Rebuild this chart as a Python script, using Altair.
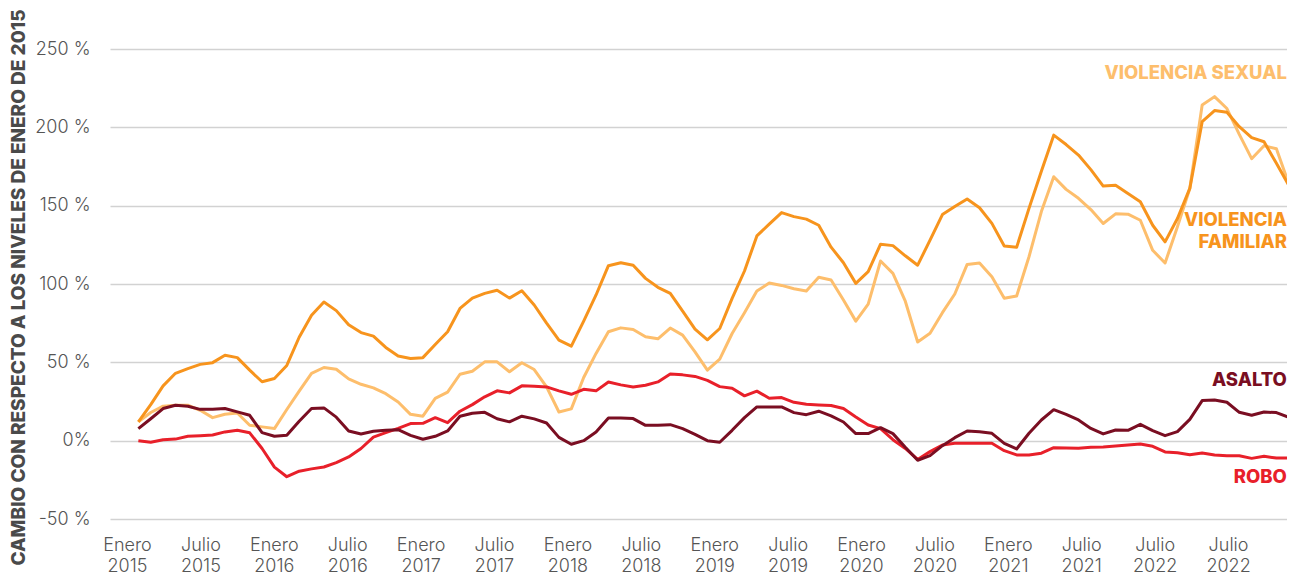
import altair as alt
import pandas as pd

# month index (first observation = 1)
meses = list(range(1, 95))

violencia_familiar = [
    12, 23, 35, 43, 46, 48.7, 49.8, 54.5, 53, 45, 37.6, 39.7, 48, 66, 80, 88.5, 83, 74, 69, 66.7,
    59.5, 54, 52.5, 53, 61.4, 69.5, 84.4, 91, 94, 96, 91, 95.7, 86.6, 75, 64.2, 60.3, 76.3, 93, 111.7, 113.6,
    112, 103.6, 97.9, 94, 82.7, 71.2, 64.4, 71.6, 90.8, 108.3, 130.7, 138.2, 145.6, 143, 141.4, 137.5, 123.5, 113.6, 100.4, 107.9,
    125.4, 124.5, 118, 112, 128, 144.3, 149.4, 154.3, 148.7, 138.7, 124.3, 123.4, 148.3, 172, 195, 189, 182.3, 173, 162.5, 163,
    157.8, 152.5, 137.5, 126.9, 141.8, 161, 203.6, 210.7, 209.6, 200.4, 193.4, 190.8, 177, 163,
]

violencia_sexual = [
    12, 18, 22, 22.6, 22.6, 19.4, 14.7, 16.9, 17.7, 9.8, 8.8, 7.7, 19.9, 31.6, 43, 46.7, 45.6, 39.4, 36, 33.7,
    30, 24.7, 16.8, 15.6, 27, 31, 42.4, 44.3, 50.3, 50.3, 44, 49.7, 45.4, 34.3, 18.3, 20.3, 40.3, 55.7, 69.5, 72,
    71, 66.3, 65, 71.9, 67.4, 56.7, 45, 52, 68.4, 81.7, 95.5, 100.6, 99.1, 97, 95.5, 104.3, 102.6, 89.8, 76.3, 87.2,
    114.7, 106.8, 89, 63, 68.5, 81.7, 93.6, 112.5, 113.4, 104.7, 90.9, 92.3, 117.4, 146.2, 168.5, 160.4, 154.7, 147.5, 138.6, 144.8,
    144.6, 140.7, 121.5, 113.4, 136.5, 161, 214.3, 219.6, 212, 195.5, 180, 188.3, 186.3, 164,
]

asalto = [
    7.7, 14, 20.5, 22.6, 22, 20, 20, 20.5, 18.4, 16.2, 5.1, 2.8, 3.4, 12.4, 20.5, 20.9, 15, 6.2, 4.3, 6,
    6.6, 7, 3.4, 0.9, 2.8, 6.2, 15.6, 17.5, 18.1, 14, 12, 15.6, 13.9, 11.3, 2.1, -2.3, 0, 5.5, 14.5, 14.5,
    14.1, 9.8, 9.8, 10.2, 7.7, 4, 0, -1, 6.6, 14.7, 21.5, 21.5, 21.5, 17.9, 16.6, 18.8, 15.8, 11.9, 4.5, 4.5,
    8.3, 4.5, -4.2, -12.5, -9.6, -3.2, 1.9, 6.2, 5.7, 4.7, -1.7, -5.3, 4.7, 13.2, 19.8, 16.8, 13.2, 7.8, 4.3, 6.8,
    6.6, 10.4, 6.4, 3.2, 5.8, 13.6, 25.6, 26, 24.5, 18.1, 16.2, 18.3, 17.9, 14.9,
]

robo = [
    0, -1, 0.6, 1, 2.8, 3.2, 3.6, 5.6, 6.6, 5, -5, -16.9, -23, -19.5, -18, -16.8, -14, -10.4, -5, 2.3,
    5.1, 7.9, 10.9, 11.1, 14.7, 11.5, 18.8, 23, 28, 31.8, 30.5, 35, 34.8, 34.3, 31.8, 29.6, 32.8, 31.8, 37.5, 35.6,
    34.3, 35.4, 37.5, 42.6, 42, 41, 38.5, 34.5, 33.5, 28.6, 31.6, 27.1, 27.5, 24.5, 23.2, 22.8, 22.4, 20.5, 15.1, 10,
    7.7, 0.6, -5, -12, -7, -2.8, -1.7, -1.7, -1.7, -1.7, -6.4, -9.1, -9.1, -8, -4.5, -4.7, -4.9, -4.2, -4, -3.4,
    -2.8, -2.1, -3.6, -7.2, -7.7, -9, -7.9, -9.2, -9.6, -9.6, -11.3, -10, -11.1, -11.1,
]

tick_labels = [
    "Enero 2015", "Julio 2015", "Enero 2016", "Julio 2016", "Enero 2017", "Julio 2017",
    "Enero 2018", "Julio 2018", "Enero 2019", "Julio 2019", "Enero 2020", "Julio 2020",
    "Enero 2021", "Julio 2021", "Julio 2022", "Julio 2022",
]
y_ticks = [-50, 0, 50, 100, 150, 200, 250]

series_names = ["Violencia sexual", "Violencia familiar", "Robo", "Asalto"]
series_values = [violencia_sexual, violencia_familiar, robo, asalto]
series_colors = ["#FDBE6C", "#F7941D", "#E8202A", "#7A0E22"]

label_texts = ["VIOLENCIA SEXUAL", "VIOLENCIA", "FAMILIAR", "ASALTO", "ROBO"]
label_series = ["Violencia sexual", "Violencia familiar", "Violencia familiar", "Asalto", "Robo"]
label_k = [93.85, 93.85, 93.85, 93.85, 93.85]
label_v = [234.5, 141, 126.5, 39, -23]

rows = []
for name, vals in zip(series_names, series_values):
    for k, v in zip(meses, vals):
        rows.append({"k": k, "valor": v, "serie": name})
df = pd.DataFrame(rows)

labels_df = pd.DataFrame({"texto": label_texts, "serie": label_series, "k": label_k, "valor": label_v})

# tick positions for the 16 axis labels (evenly spaced, as in the original)
tick_start, tick_step = 0.081, 5.934
tick_pos = [round(tick_start + tick_step * i, 3) for i in range(len(tick_labels))]
labels_js = "[" + ",".join("'" + t + "'" for t in tick_labels) + "]"
x_label_expr = f"split({labels_js}[round((datum.value - {tick_start}) / {tick_step})], ' ')"

color_scale = alt.Scale(domain=series_names, range=series_colors)

x_enc = alt.X(
    "k:Q",
    scale=alt.Scale(domain=[-1.293, 93.857], nice=False, zero=False),
    axis=alt.Axis(
        values=tick_pos, labelExpr=x_label_expr, grid=False, domain=False, ticks=False,
        labelFont="Inter", labelFontSize=18, labelFontWeight=300, labelColor="#555555",
        labelPadding=17, labelLineHeight=21, labelAngle=0, labelOverlap=False, labelFlush=False,
        labelAlign="center",
    ),
    title=None,
)
y_enc = alt.Y(
    "valor:Q",
    scale=alt.Scale(domain=[-50, 250], nice=False, zero=False),
    axis=alt.Axis(
        values=y_ticks,
        labelExpr="datum.value == 0 ? '0%' : datum.value + ' %'",
        grid=True, gridColor="#d2d2d2", gridWidth=1.5, domain=False, ticks=False,
        labelFont="Inter", labelFontSize=18, labelFontWeight=300, labelColor="#555555",
        labelPadding=20,
        title="CAMBIO CON RESPECTO A LOS NIVELES DE ENERO DE 2015",
        titleFont="Inter", titleFontSize=19, titleFontWeight=800, titleColor="#4a4a4a",
        titleAngle=270, titleX=-92, titleY=238, titleAlign="center", titleBaseline="middle",
    ),
)

layers = []
for name in series_names:
    layers.append(
        alt.Chart(df)
        .transform_filter(alt.datum.serie == name)
        .mark_line(strokeWidth=3, strokeJoin="round")
        .encode(x=x_enc, y=y_enc, color=alt.Color("serie:N", scale=color_scale, legend=None))
    )

text_layer = alt.Chart(labels_df).mark_text(
    align="right", baseline="middle", font="Inter", fontWeight=800, fontSize=18.5
).encode(
    x=alt.X("k:Q"),
    y=alt.Y("valor:Q"),
    text="texto:N",
    color=alt.Color("serie:N", scale=color_scale, legend=None),
)

chart = (
    alt.layer(*layers, text_layer)
    .properties(
        width=1177,
        height=470,
        padding={"left": 102, "top": 41, "right": 0, "bottom": 55},
        autosize=alt.AutoSizeParams(type="none"),
        background="white",
    )
    .configure_view(stroke=None)
)

chart.save("out.html", embed_options={"renderer": "svg", "actions": False})
